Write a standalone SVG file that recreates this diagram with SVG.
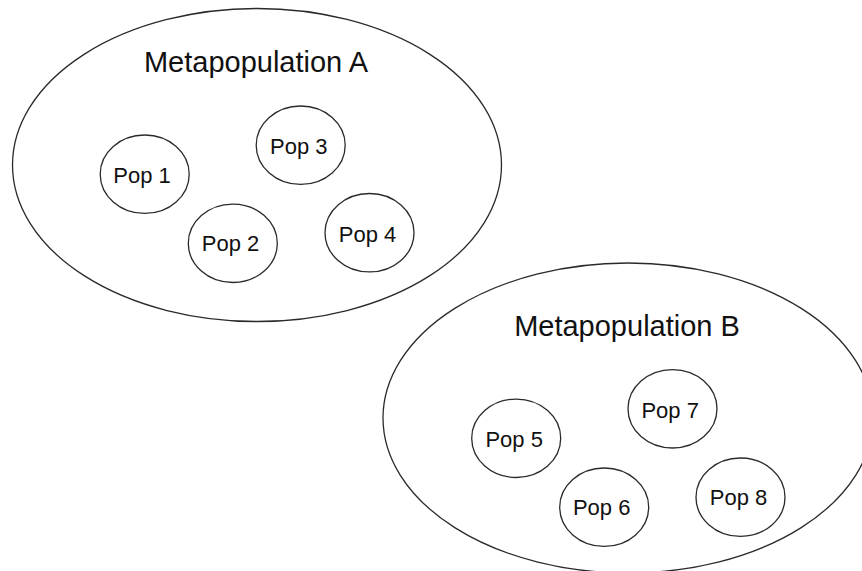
<svg xmlns="http://www.w3.org/2000/svg" width="862" height="571" viewBox="0 0 862 571">
<style>
.meta{fill:#fff;stroke:#2a2a2a;stroke-width:1.3}
.pop{fill:#fff;stroke:#2a2a2a;stroke-width:1.3}
.big{font-family:"Liberation Sans",Arial,sans-serif;font-size:29px;fill:#111;text-anchor:middle}
.lbl{font-family:"Liberation Sans",Arial,sans-serif;font-size:22px;fill:#111;text-anchor:middle}
</style>
<rect width="862" height="571" fill="#fff"/>
<g id="metaA">
<ellipse class="meta" cx="257" cy="165" rx="244.5" ry="156.5"/>
<text class="big" x="256" y="72">Metapopulation A</text>
</g>
<g id="metaB">
<ellipse class="meta" cx="628" cy="418" rx="245" ry="155"/>
<text class="big" x="627" y="336">Metapopulation B</text>
</g>
<g id="pop1"><ellipse class="pop" cx="144.7" cy="174.2" rx="44.5" ry="39.2"/><text class="lbl" x="142" y="182.7">Pop 1</text></g>
<g id="pop2"><ellipse class="pop" cx="232.8" cy="243.3" rx="44.5" ry="39.2"/><text class="lbl" x="230.5" y="250.7">Pop 2</text></g>
<g id="pop3"><ellipse class="pop" cx="300.7" cy="145.2" rx="44.5" ry="39.2"/><text class="lbl" x="298.8" y="154">Pop 3</text></g>
<g id="pop4"><ellipse class="pop" cx="369.5" cy="232.7" rx="44.5" ry="39.2"/><text class="lbl" x="367.5" y="241.7">Pop 4</text></g>
<g id="pop5"><ellipse class="pop" cx="516.2" cy="438.3" rx="44.5" ry="39.2"/><text class="lbl" x="514.2" y="446.7">Pop 5</text></g>
<g id="pop6"><ellipse class="pop" cx="604.2" cy="507.2" rx="44.5" ry="39.2"/><text class="lbl" x="601.7" y="515">Pop 6</text></g>
<g id="pop7"><ellipse class="pop" cx="672.5" cy="408.8" rx="44.5" ry="39.2"/><text class="lbl" x="670.2" y="417.7">Pop 7</text></g>
<g id="pop8"><ellipse class="pop" cx="740.5" cy="497.2" rx="44.5" ry="39.2"/><text class="lbl" x="738.5" y="504.8">Pop 8</text></g>
<g id="connectors"/>
</svg>
